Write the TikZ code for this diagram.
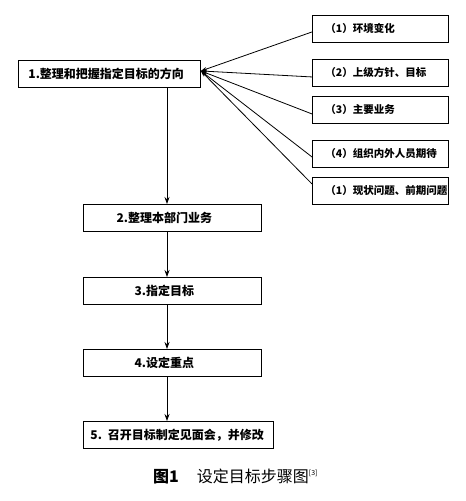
\documentclass[tikz,border=0pt]{standalone}
\usepackage{fontspec}
\setmainfont{Noto Sans CJK SC}
\usetikzlibrary{arrows.meta,calc}
\begin{document}
\begin{tikzpicture}[x=1pt,y=-1pt,
  box/.style={draw,line width=0.9pt,minimum height=27pt,inner ysep=0pt,font=\bfseries\fontsize{12}{14}\selectfont,anchor=north west},
  rbox/.style={draw,line width=0.9pt,minimum height=27pt,minimum width=136pt,inner ysep=0pt,text width=110pt,inner xsep=13pt,align=left,font=\bfseries\fontsize{10.5}{12}\selectfont,anchor=north west},
  flow/.style={line width=0.8pt,-{Stealth[length=7pt,width=5pt]}},
  feed/.style={line width=0.8pt,-{Stealth[length=6pt,width=4pt]}}]
\useasboundingbox (0,0) rectangle (466,501);
\node[box,minimum width=182pt,text width=162pt,inner xsep=10pt,align=left] (b1) at (18,60) {1.整理和把握指定目标的方向};
\node[rbox] (r1) at (312,15) {（1）环境变化};
\node[rbox] (r2) at (312,59) {（2）上级方针、目标};
\node[rbox] (r3) at (312,96) {（3）主要业务};
\node[rbox] (r4) at (312,140) {（4）组织内外人员期待};
\node[rbox] (r5) at (312,177) {（1）现状问题、前期问题};
\node[box,minimum width=178pt] (b2) at (83,204) {2.整理本部门业务\hspace*{16pt}};
\node[box,minimum width=178pt] (b3) at (83,277) {3.指定目标\hspace*{16pt}};
\node[box,minimum width=178pt] (b4) at (83,349) {4.设定重点\hspace*{16pt}};
\node[box,minimum width=190pt,text width=176pt,inner xsep=7pt,align=left] (b5) at (83,421) {5. 召开目标制定见面会，并修改};
\coordinate (hub) at ($(b1.east)+(0,-3)$);
\draw[feed] ($(r1.west)+(0,3)$) -- (hub);
\draw[feed] ($(r2.west)+(0,4)$) -- (hub);
\draw[feed] ($(r3.west)+(0,4)$) -- (hub);
\draw[feed] ($(r4.west)+(0,3)$) -- (hub);
\draw[feed] ($(r5.west)+(0,-7)$) -- (hub);
\draw[flow] (b1.south -| 167,0) -- (b2.north -| 167,0);
\draw[flow] (b2.south -| 167,0) -- (b3.north -| 167,0);
\draw[flow] (b3.south -| 167,0) -- (b4.north -| 167,0);
\draw[flow] (b4.south -| 167,0) -- (b5.north -| 167,0);
\node[anchor=west,inner sep=0pt,font=\fontsize{16}{18}\selectfont] (cap) at (153,476) {{\bfseries 图1}\hspace{18pt}设定目标步骤图\textsuperscript{\fontsize{7}{8}\selectfont[3]}};
\end{tikzpicture}
\end{document}
